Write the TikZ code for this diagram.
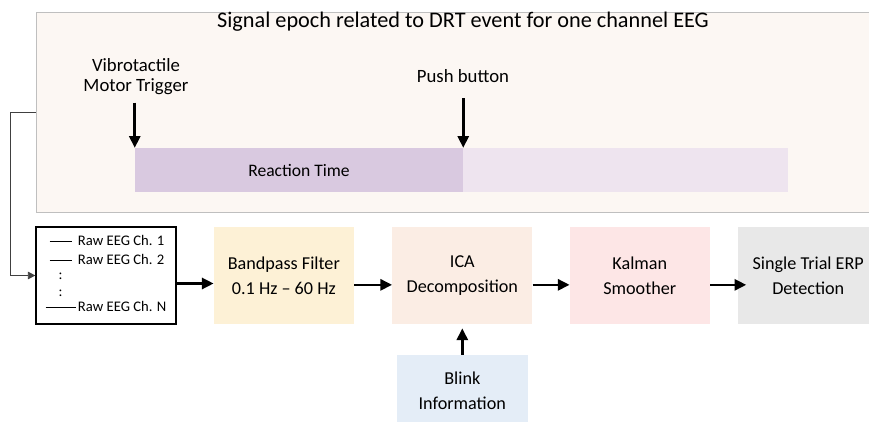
\documentclass[tikz,border=0pt]{standalone}
\usepackage{fontspec}
\setmainfont{Carlito}
\usepackage{tikz}
\usetikzlibrary{positioning, shapes, arrows.meta}

\definecolor{epochbg}{HTML}{FCF7F3}
\definecolor{rtcolor}{HTML}{D9C9E0}
\definecolor{restcolor}{HTML}{EEE4EF}
\definecolor{bpcolor}{HTML}{FDF1D6}
\definecolor{icacolor}{HTML}{FBEDE4}
\definecolor{kalmancolor}{HTML}{FDE6E6}
\definecolor{erpcolor}{HTML}{E8E8E8}
\definecolor{blinkcolor}{HTML}{E4EDF7}

\begin{document}
\begin{tikzpicture}[
    x=0.03cm, y=-0.03cm,
    block/.style={rectangle, minimum width=4.2cm, minimum height=2.88cm, align=center, inner sep=2pt, font=\fontsize{15.5}{21}\selectfont},
    eventlabel/.style={align=center, font=\fontsize{16}{17}\selectfont},
    timebar/.style={rectangle, minimum height=1.32cm, inner sep=0pt},
    flow/.style={->, line width=2.2pt},
    >={Triangle[length=10pt, width=9.5pt]}
]
\useasboundingbox (0,0) rectangle (869,422);

\node[rectangle, draw=black!25, line width=0.8pt, fill=epochbg, minimum width=25.32cm, minimum height=5.98cm] (epoch) at (458,112.4) {};
\node[font=\fontsize{19}{22}\selectfont] (title) at (463,22) {Signal epoch related to DRT event for one channel EEG};

\node[timebar, fill=rtcolor, minimum width=9.84cm, font=\fontsize{15}{18}\selectfont] (rt) at (299,170) {Reaction Time};
\node[timebar, fill=restcolor, minimum width=9.72cm, right=0cm of rt] (rest) {};

\node[eventlabel] (trigger) at (136,77) {Vibrotactile\\Motor Trigger};
\node[eventlabel] (push) at (463,76) {Push button};
\draw[flow, shorten <=3pt] (trigger.south -| rt.north west) -- (rt.north west);
\draw[flow, shorten <=10pt] (push.south -| rt.north east) -- (rt.north east);

\node[draw, line width=1pt, minimum width=4.2cm, minimum height=2.91cm, font=\fontsize{12.5}{14}\selectfont] (raw) at (106,275.5) {%
\begin{tabular}{@{}c@{\hspace{2pt}}l@{}}
\rule[3.5pt]{0.66cm}{0.5pt} & Raw EEG Ch. 1\\[2pt]
\rule[3.5pt]{0.66cm}{0.5pt} & Raw EEG Ch. 2\\[-1pt]
: & \\
: & \\[-1pt]
\rule[3.5pt]{0.9cm}{0.5pt} & Raw EEG Ch. N
\end{tabular}};

\node[block, fill=bpcolor, right=1.11cm of raw] (bandpass) {Bandpass Filter\\0.1 Hz -- 60 Hz};
\node[block, fill=icacolor, right=1.14cm of bandpass] (ica) {ICA\\Decomposition};
\node[block, fill=kalmancolor, right=1.11cm of ica] (kalman) {Kalman\\Smoother};
\node[block, fill=erpcolor, right=0.84cm of kalman] (erp) {Single Trial ERP\\Detection};
\node[block, fill=blinkcolor, minimum width=3.93cm, minimum height=2.16cm, below=0.93cm of ica] (blink) {Blink\\Information};

\draw[line width=0.8pt, black!75, -{Triangle[length=6.5pt, width=6.5pt]}] (epoch.west) -- ++(-25,0) |- (raw.west);
\draw[flow] ([yshift=-0.24cm]raw.east) -- ([yshift=-0.24cm]bandpass.west);
\draw[flow] ([yshift=-0.28cm]bandpass.east) -- ([yshift=-0.28cm]ica.west);
\draw[flow] ([yshift=-0.28cm]ica.east) -- ([yshift=-0.28cm]kalman.west);
\draw[flow, shorten >=-7pt] ([yshift=-0.28cm]kalman.east) -- ([yshift=-0.28cm]erp.west);
\draw[flow, shorten >=4pt] (blink.north) -- (ica.south);

\end{tikzpicture}
\end{document}
